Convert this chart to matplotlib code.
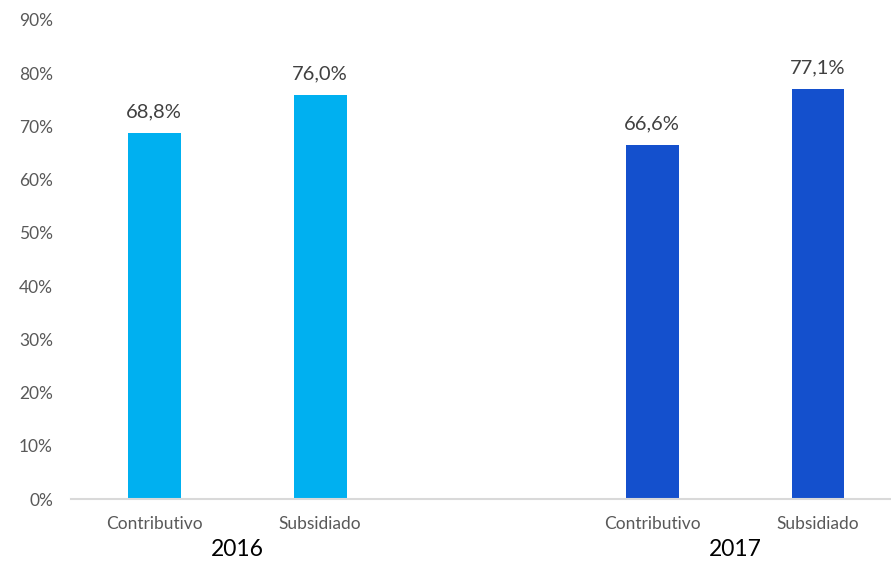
import matplotlib
matplotlib.use("Agg")
import matplotlib.pyplot as plt
from matplotlib.transforms import blended_transform_factory

plt.rcParams['font.family'] = ['Lato', 'DejaVu Sans']

years = ["2016", "2017"]
categories = ["Contributivo", "Subsidiado"]
values_2016 = [68.8, 76.0]
values_2017 = [66.6, 77.1]
colors = ["#00B0F0", "#1450CD"]
yticks = list(range(0, 100, 10))

W, H = 891, 561
fig = plt.figure(figsize=(W / 100, H / 100), dpi=100)
ax = fig.add_axes([71 / W, (H - 499) / H, (901 - 71) / W, (499 - 20) / H])

series = [values_2016, values_2017]
positions = [[0, 1], [3, 4]]
bar_w = 53 / 166

for vals, pos, col in zip(series, positions, colors):
    bars = ax.bar(pos, vals, width=bar_w, color=col, zorder=2)
    for b, v in zip(bars, vals):
        ax.annotate(f"{v:.1f}%".replace(".", ","),
                    (b.get_x() + b.get_width() / 2, v),
                    xytext=(0, 9), textcoords="offset points",
                    ha="center", va="bottom", fontsize=14.5, color="#404040")

ax.set_xlim(-0.5, 4.5)
ax.set_ylim(0, 90)
ax.set_yticks(yticks)
ax.set_yticklabels([f"{t}%" for t in yticks], fontsize=12.5, color="#595959")
ax.tick_params(axis="y", length=0, pad=13)

xt = [p for pos in positions for p in pos]
ax.set_xticks(xt)
ax.set_xticklabels(categories * len(years), fontsize=12.5, color="#595959")
ax.tick_params(axis="x", length=0, pad=12)

for s in ["left", "right", "top"]:
    ax.spines[s].set_visible(False)
ax.spines["bottom"].set_color("#D9D9D9")
ax.spines["bottom"].set_linewidth(1.5)

trans = blended_transform_factory(ax.transData, fig.transFigure)
for yr, pos in zip(years, positions):
    ax.text(sum(pos) / 2, 1 - 549 / H, yr, transform=trans,
            ha="center", va="center", fontsize=16.5, color="#000000")

fig.savefig("out.png", dpi=100)
